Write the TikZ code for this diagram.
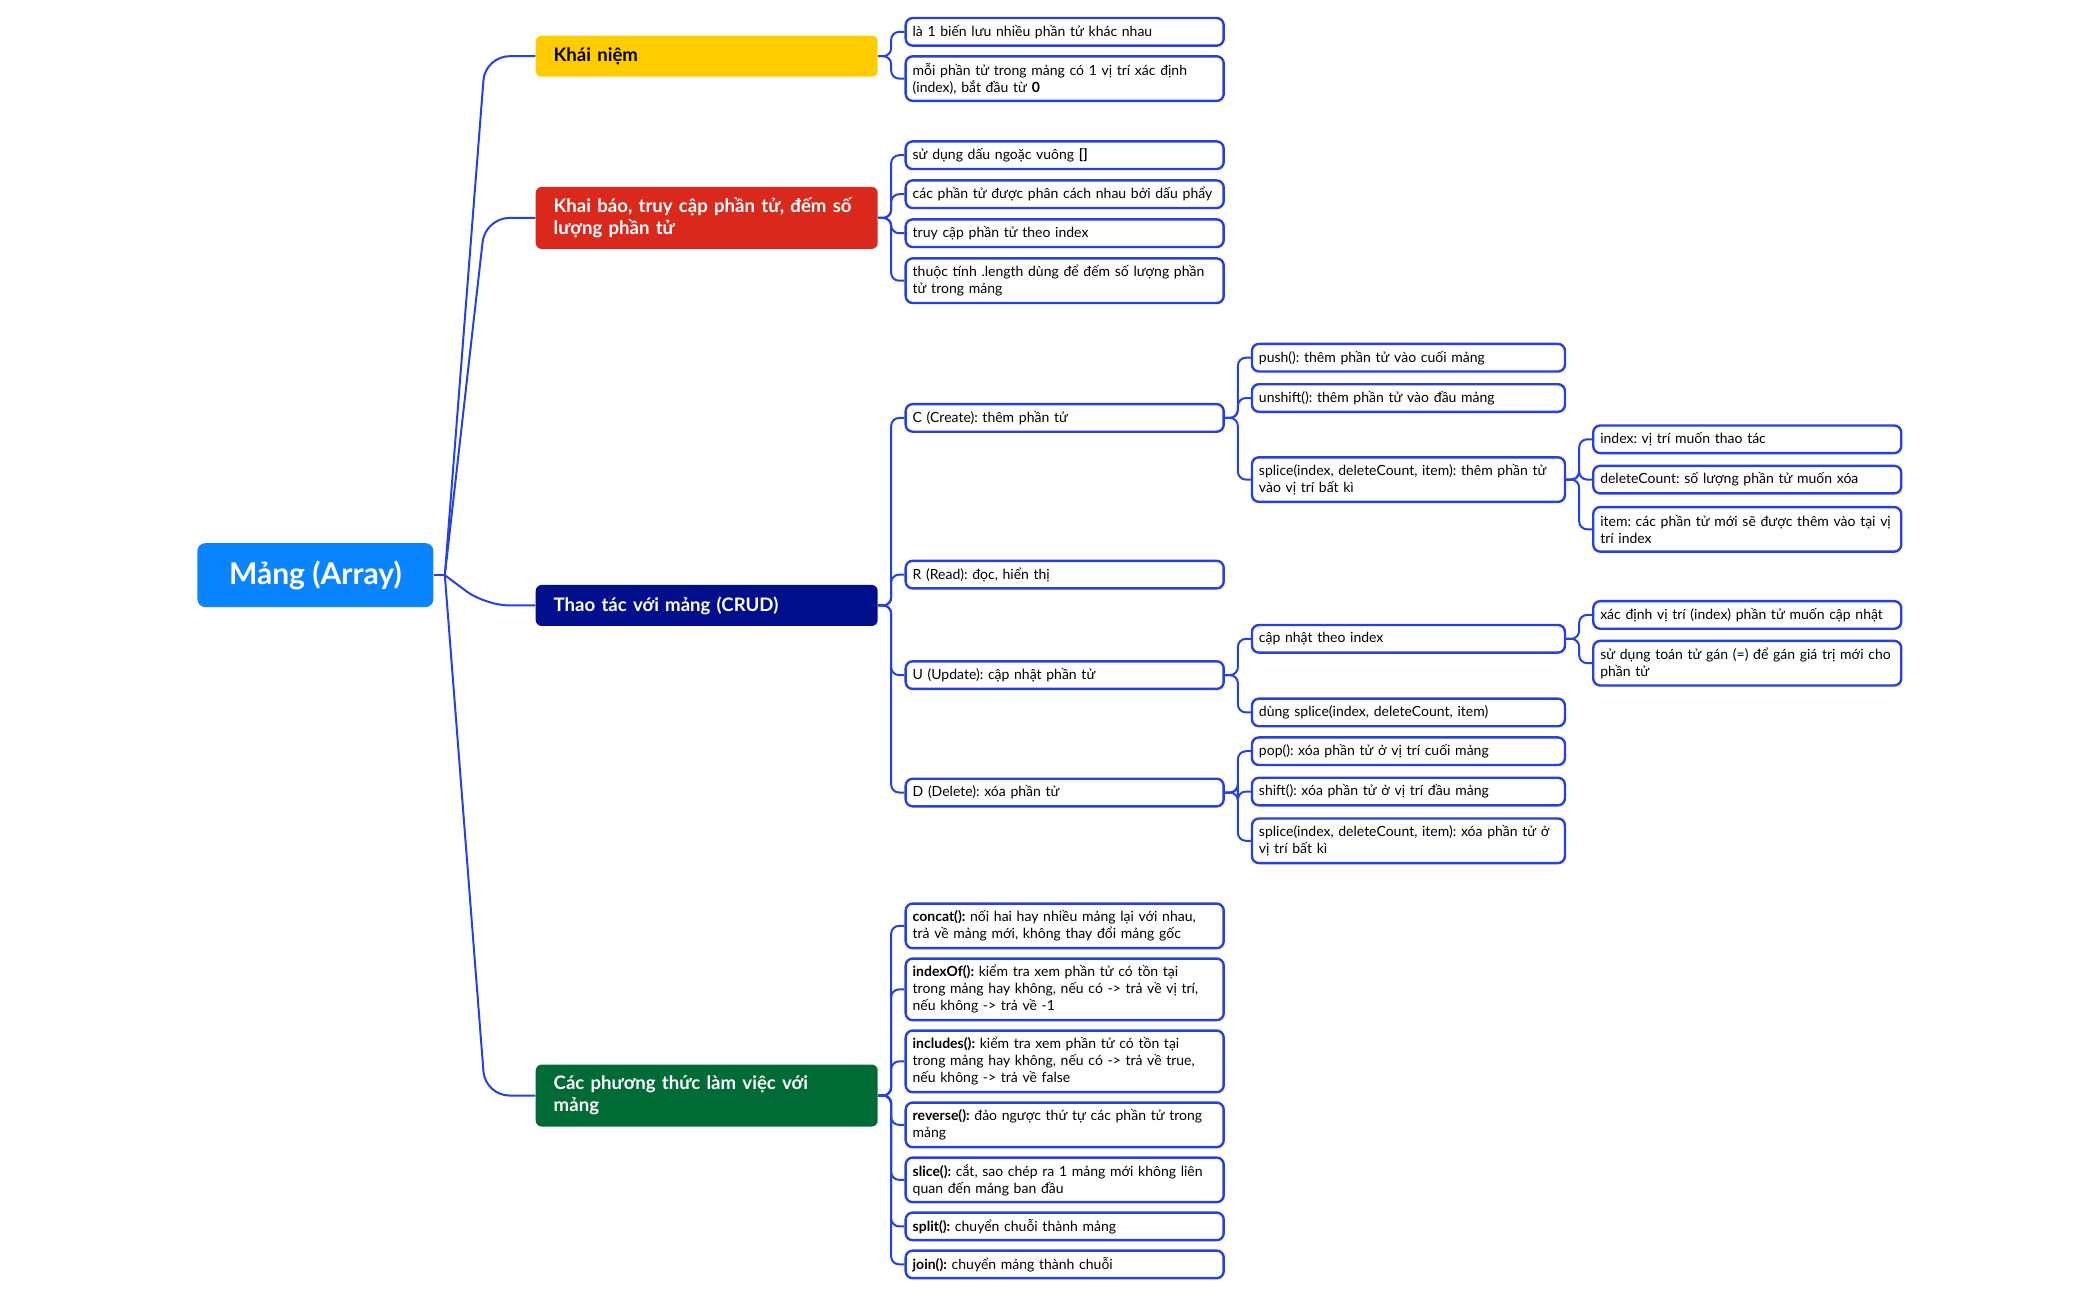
\documentclass[tikz,border=0pt]{standalone}
\usepackage{fontspec}
\setmainfont{Lato}
\usetikzlibrary{positioning}
\frenchspacing

\definecolor{linkblue}{HTML}{2541E0}
\definecolor{rootblue}{HTML}{0A84FF}
\definecolor{topicyellow}{HTML}{FFCC00}
\definecolor{topicred}{HTML}{DA291C}
\definecolor{topicnavy}{HTML}{020F8C}
\definecolor{topicgreen}{HTML}{006B35}

\tikzset{
  root/.style={fill=rootblue, text=white, rounded corners=4pt, minimum width=118pt,
    minimum height=32pt, font=\fontsize{15}{17}\selectfont\bfseries},
  topic/.style={rounded corners=3pt, anchor=west, align=left, text width=153pt,
    inner xsep=9pt, inner ysep=2pt, minimum height=20.5pt, text=white,
    font=\fontsize{9.3}{11}\selectfont\bfseries},
  leaf/.style={draw=linkblue, line width=1.2pt, fill=white, rounded corners=3.5pt,
    anchor=west, align=left, text width=152pt, inner xsep=3.5pt, inner ysep=1.5pt,
    minimum height=13.8pt, font=\fontsize{7}{8.5}\selectfont},
  mid/.style={text width=149.5pt},
  far/.style={text width=147pt},
  two/.style={minimum height=22.3pt},
  three/.style={minimum height=30.8pt},
  link/.style={draw=linkblue, line width=1pt, rounded corners=4pt},
  rootlink/.style={draw=linkblue, line width=1pt, rounded corners=12pt}
}

\begin{document}
\begin{tikzpicture}[x=0.4975pt, y=-0.4975pt]
  \useasboundingbox (0,0) rectangle (2110.5,1304.5);

  % root and main topics
  \node[root] (root) at (317,578) {Mảng (Array)};
  \coordinate (j) at ([xshift=5.5pt]root.east);

  \node[topic, fill=topicyellow, text=black] (k) at (538,56.5) {Khái niệm};
  \node[topic, fill=topicred, minimum height=31pt] (kb) at (538,219)
    {Khai báo, truy cập phần tử, đếm số\\lượng phần tử};
  \node[topic, fill=topicnavy] (td) at (538,608.5) {Thao tác với mảng (CRUD)};
  \node[topic, fill=topicgreen, minimum height=31pt] (pt) at (538,1101)
    {Các phương thức làm việc với\\mảng};

  % Khai niem
  \node[leaf] (k1) at (909,32) {là 1 biến lưu nhiều phần tử khác nhau};
  \node[leaf, two] (k2) at (909,79)
    {mỗi phần tử trong mảng có 1 vị trí xác định\\(index), bắt đầu từ \textbf{0}};

  % Khai bao
  \node[leaf] (b1) at (909,156) {sử dụng dấu ngoặc vuông \textbf{[]}};
  \node[leaf] (b2) [below=4.5pt of b1] {các phần tử được phân cách nhau bởi dấu phẩy};
  \node[leaf] (b3) [below=4.5pt of b2] {truy cập phần tử theo index};
  \node[leaf, two] (b4) [below=4.5pt of b3]
    {thuộc tính .length dùng để đếm số lượng phần\\tử trong mảng};

  % CRUD
  \node[leaf] (c) at (909,420) {C (Create): thêm phần tử};
  \node[leaf] (r) at (909,577.5) {R (Read): đọc, hiển thị};
  \node[leaf] (u) at (909,678.5) {U (Update): cập nhật phần tử};
  \node[leaf] (d) at (909,796.5) {D (Delete): xóa phần tử};

  \node[leaf, mid] (c1) at (1257,359.5) {push(): thêm phần tử vào cuối mảng};
  \node[leaf, mid] (c2) at (1257,400) {unshift(): thêm phần tử vào đầu mảng};
  \node[leaf, mid, two] (c3) at (1257,482)
    {splice(index, deleteCount, item): thêm phần tử\\vào vị trí bất kì};

  \node[leaf, far] (s1) at (1600,441.5) {index: vị trí muốn thao tác};
  \node[leaf, far] (s2) at (1600,482) {deleteCount: số lượng phần tử muốn xóa};
  \node[leaf, far, two] (s3) at (1600,532)
    {item: các phần tử mới sẽ được thêm vào tại vị\\trí index};

  \node[leaf, mid] (u1) at (1257,642) {cập nhật theo index};
  \node[leaf, mid] (u2) at (1257,716) {dùng splice(index, deleteCount, item)};

  \node[leaf, far] (x1) at (1600,618) {xác định vị trí (index) phần tử muốn cập nhật};
  \node[leaf, far, two] (x2) at (1600,666.5)
    {sử dụng toán tử gán (=) để gán giá trị mới cho\\phần tử};

  \node[leaf, mid] (d1) at (1257,755) {pop(): xóa phần tử ở vị trí cuối mảng};
  \node[leaf, mid] (d2) at (1257,795.5) {shift(): xóa phần tử ở vị trí đầu mảng};
  \node[leaf, mid, two] (d3) at (1257,845)
    {splice(index, deleteCount, item): xóa phần tử ở\\vị trí bất kì};

  % methods
  \node[leaf, two] (m1) at (909,930.5)
    {\textbf{concat():} nối hai hay nhiều mảng lại với nhau,\\trả về mảng mới, không thay đổi mảng gốc};
  \node[leaf, three] (m2) [below=4pt of m1]
    {\textbf{indexOf():} kiểm tra xem phần tử có tồn tại\\trong mảng hay không, nếu có -> trả về vị trí,\\nếu không -> trả về -1};
  \node[leaf, three] (m3) [below=4pt of m2]
    {\textbf{includes():} kiểm tra xem phần tử có tồn tại\\trong mảng hay không, nếu có -> trả về true,\\nếu không -> trả về false};
  \node[leaf, two] (m4) [below=4pt of m3]
    {\textbf{reverse():} đảo ngược thứ tự các phần tử trong\\mảng};
  \node[leaf, two] (m5) [below=4pt of m4]
    {\textbf{slice():} cắt, sao chép ra 1 mảng mới không liên\\quan đến mảng ban đầu};
  \node[leaf] (m6) [below=4pt of m5] {\textbf{split():} chuyển chuỗi thành mảng};
  \node[leaf] (m7) [below=4pt of m6] {\textbf{join():} chuyển mảng thành chuỗi};

  % connectors
  \draw[link] (root.east) -- (j);
  \foreach \t in {k,kb,td,pt}
    \draw[rootlink] (j) -- ([xshift=-25pt]\t.west) -- (\t.west);

  \foreach \p/\c in {k/k1,k/k2,kb/b1,kb/b2,kb/b3,kb/b4,td/c,td/r,td/u,td/d,
      c/c1,c/c2,c/c3,c3/s1,c3/s2,c3/s3,u/u1,u/u2,u1/x1,u1/x2,d/d1,d/d2,d/d3,
      pt/m1,pt/m2,pt/m3,pt/m4,pt/m5,pt/m6,pt/m7}
    \draw[link] (\p.east) -- ++(6.5pt,0) |- (\c.west);
\end{tikzpicture}
\end{document}
